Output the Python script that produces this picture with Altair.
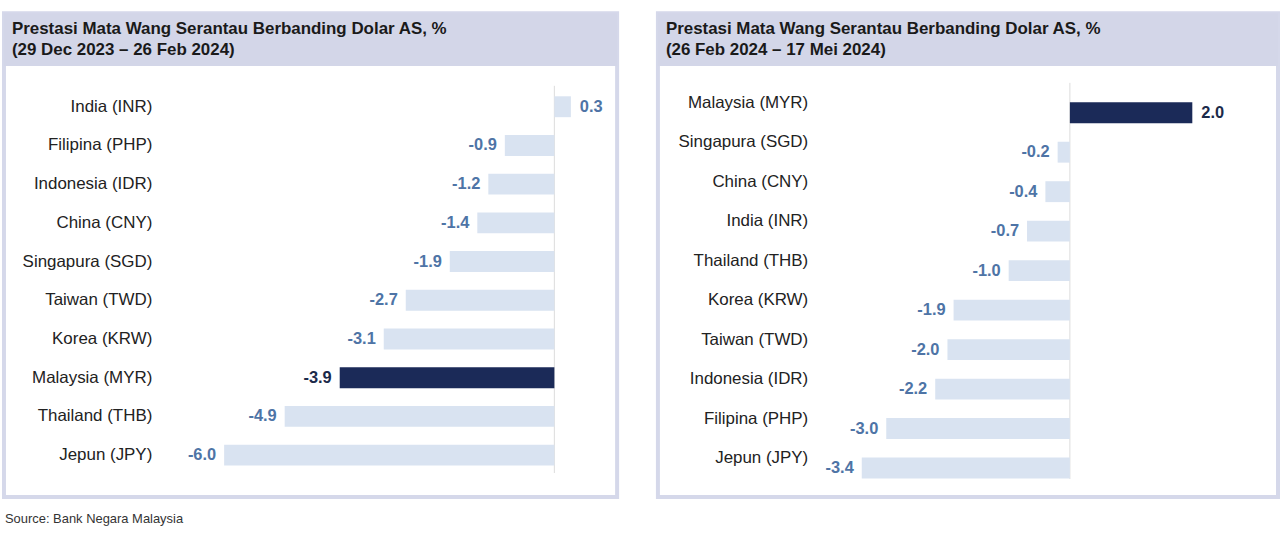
import altair as alt
import pandas as pd

# ---- data ----
left_cats = ["India (INR)", "Filipina (PHP)", "Indonesia (IDR)", "China (CNY)", "Singapura (SGD)",
             "Taiwan (TWD)", "Korea (KRW)", "Malaysia (MYR)", "Thailand (THB)", "Jepun (JPY)"]
left_vals = [0.3, -0.9, -1.2, -1.4, -1.9, -2.7, -3.1, -3.9, -4.9, -6.0]

right_cats = ["Malaysia (MYR)", "Singapura (SGD)", "China (CNY)", "India (INR)", "Thailand (THB)",
              "Korea (KRW)", "Taiwan (TWD)", "Indonesia (IDR)", "Filipina (PHP)", "Jepun (JPY)"]
right_vals = [2.0, -0.2, -0.4, -0.7, -1.0, -1.9, -2.0, -2.2, -3.0, -3.4]

title_main = "Prestasi Mata Wang Serantau Berbanding Dolar AS, %"
left_sub = "(29 Dec 2023 \u2013 26 Feb 2024)"
right_sub = "(26 Feb 2024 \u2013 17 Mei 2024)"
source = "Source: Bank Negara Malaysia"
highlight = "Malaysia (MYR)"

FONT = "Liberation Sans"
DARK = "#1b2a58"
LIGHT = "#d9e3f1"
VAL_COL = "#4e74a6"
HEADER = "#d3d6e8"


def panel(cats, vals, sub, width, height, xdomain, yrange, label_x, label_dy, zero_y):
    df = pd.DataFrame({"cat": cats, "val": vals})
    df["hl"] = df["cat"] == highlight
    df["lab"] = [f"{v:.1f}" for v in vals]
    base = alt.Chart(df)
    x = alt.X("val:Q", scale=alt.Scale(domain=xdomain, nice=False, zero=False), axis=None)
    y = alt.Y("cat:N", sort=cats, scale=alt.Scale(type="point", range=yrange, padding=0), axis=None)

    header = alt.Chart(pd.DataFrame({"a": [0]})).mark_rect(color=HEADER).encode(
        x=alt.value(0), x2=alt.value(width), y=alt.value(0), y2=alt.value(53))
    t1 = alt.Chart(pd.DataFrame({"t": [title_main]})).mark_text(
        align="left", baseline="middle", font=FONT, fontSize=17, fontWeight="bold", color="#1a1a1a"
    ).encode(x=alt.value(8), y=alt.value(16), text="t:N")
    t2 = alt.Chart(pd.DataFrame({"t": [sub]})).mark_text(
        align="left", baseline="middle", font=FONT, fontSize=17, fontWeight="bold", color="#1a1a1a"
    ).encode(x=alt.value(8), y=alt.value(37), text="t:N")

    zero = alt.Chart(pd.DataFrame({"z": [0]})).mark_rule(color="#dcdcdc", strokeWidth=1).encode(
        x=alt.X("z:Q", scale=alt.Scale(domain=xdomain, nice=False, zero=False), axis=None),
        y=alt.value(zero_y[0]), y2=alt.value(zero_y[1]))

    bars = base.mark_bar(size=21).encode(
        x=x, x2=alt.datum(0), y=y,
        color=alt.condition(alt.datum.hl, alt.value(DARK), alt.value(LIGHT)))

    cat_labels = base.mark_text(align="right", baseline="middle", font=FONT, fontSize=17,
                                color="#222222", dy=label_dy).encode(
        x=alt.value(label_x), y=y, text="cat:N")

    val_color = alt.condition(alt.datum.hl, alt.value("#1b2a4a"), alt.value(VAL_COL))
    neg = base.transform_filter(alt.datum.val < 0).mark_text(
        align="right", baseline="middle", font=FONT, fontSize=16.5, fontWeight="bold", dx=-8
    ).encode(x=x, y=y, text="lab:N", color=val_color)
    pos = base.transform_filter(alt.datum.val >= 0).mark_text(
        align="left", baseline="middle", font=FONT, fontSize=16.5, fontWeight="bold", dx=9
    ).encode(x=x, y=y, text="lab:N", color=val_color)

    return alt.layer(header, t1, t2, zero, bars, cat_labels, neg, pos).properties(
        width=width, height=height)


left = panel(left_cats, left_vals, left_sub, 616, 486, [-10.0, 1.14], [94, 444], 149, 0, (73, 462))
right = panel(right_cats, right_vals, right_sub, 623, 486, [-6.73, 3.40], [100, 457], 151, -10, (70, 468))

chart = alt.hconcat(left, right, spacing=37).properties(
    padding={"left": 2, "top": 10, "right": 0, "bottom": 0},
    title=alt.TitleParams(source, orient="bottom", anchor="start", font=FONT, fontSize=13,
                          fontWeight="normal", color="#333333", offset=14, dx=3),
    background="white",
).configure_view(stroke="#d5d8ea", strokeWidth=4).configure_concat(spacing=37)

chart.save("out.html", embed_options={"renderer": "svg", "actions": False})
